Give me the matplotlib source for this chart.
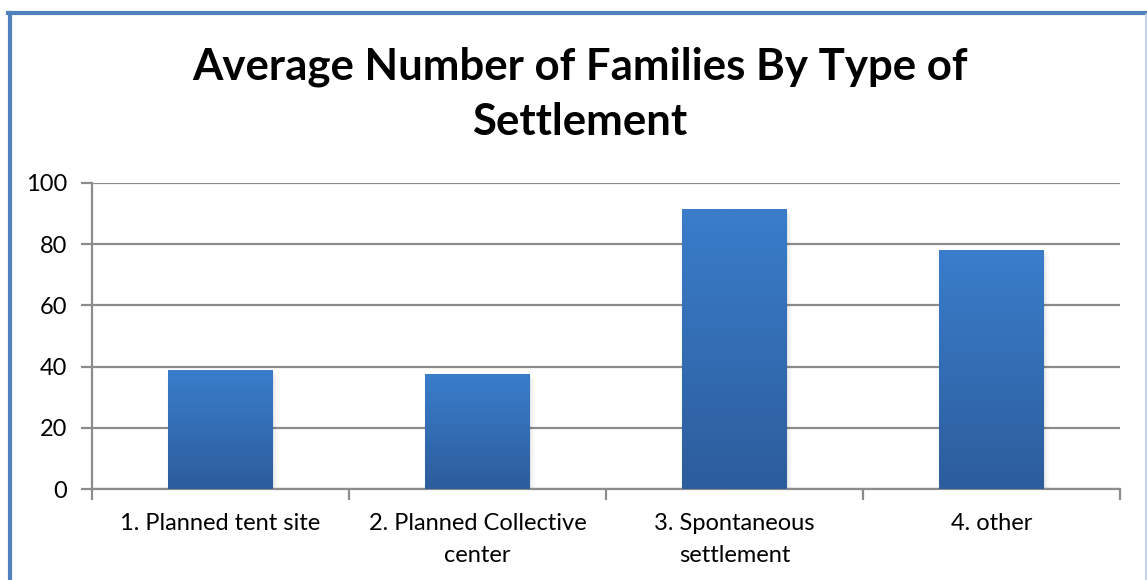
import numpy as np
import matplotlib
matplotlib.use("Agg")
import matplotlib.pyplot as plt
from matplotlib.lines import Line2D
from matplotlib.colors import LinearSegmentedColormap
from matplotlib.patches import Rectangle

categories = ["1. Planned tent site", "2. Planned Collective\ncenter",
              "3. Spontaneous\nsettlement", "4. other"]
values = [38.8, 37.6, 91.5, 78.1]
y_ticks = [0, 20, 40, 60, 80, 100]
title = "Average Number of Families By Type of\nSettlement"

plt.rcParams['font.family'] = ['Lato', 'DejaVu Sans']

W, H = 1147, 580
fig = plt.figure(figsize=(W / 100, H / 100), dpi=100)
ax = fig.add_axes([92 / W, 1 - 489 / H, (1120 - 92) / W, (489 - 183) / H])

x = np.arange(len(categories))
bar_w = 0.405
bars = ax.bar(x, values, width=bar_w, color='none', zorder=3)

# vertical gradient fill for each bar, plus a soft shadow
grad = LinearSegmentedColormap.from_list('g', ['#2c5d9c', '#3a7dcb'])
gimg = np.linspace(0, 1, 256).reshape(-1, 1)
for b in bars:
    x0, w, h = b.get_x(), b.get_width(), b.get_height()
    for k, a in enumerate([0.05, 0.035, 0.02]):
        d = 0.005 * (k + 1)
        ax.add_patch(Rectangle((x0 - d * 0.3, -0.8 * (k + 1)), w + 1.6 * d,
                               h + 0.3, color='black', alpha=a, lw=0, zorder=2))
    im = ax.imshow(gimg, cmap=grad, aspect='auto', origin='lower',
                   extent=[x0, x0 + w, 0, h], zorder=3)
    im.set_clip_path(b)

ax.set_xlim(-0.5, len(categories) - 0.5)
ax.set_ylim(0, 100)
ax.set_yticks(y_ticks)
ax.set_yticklabels([str(t) for t in y_ticks], fontsize=17)
ax.yaxis.grid(True, color='#8c8c8c', lw=1.6, zorder=1)
ax.set_axisbelow(True)

# categories labelled at the centres, tick marks at the boundaries
ax.set_xticks(x)
ax.set_xticklabels(categories, fontsize=17, linespacing=1.65)
ax.set_xticks(np.arange(-0.5, len(categories)), minor=True)
ax.tick_params(axis='x', which='major', length=0, pad=17)
ax.tick_params(axis='x', which='minor', length=8, width=1.6, color='#8c8c8c')
ax.tick_params(axis='y', length=8, width=1.6, color='#8c8c8c', pad=10)

for s in ['top', 'right']:
    ax.spines[s].set_visible(False)
for s in ['left', 'bottom']:
    ax.spines[s].set_color('#8c8c8c')
    ax.spines[s].set_linewidth(1.6)

fig.text(580 / W, 1 - 94 / H, title, ha='center', va='center',
         fontsize=31.5, fontweight='bold', linespacing=1.45)

# chart frame
fig.add_artist(Line2D([9.5 / W, 9.5 / W], [0, 1 - 13 / H], color='#4f81bd', lw=3))
fig.add_artist(Line2D([8 / W, 1], [1 - 13 / H, 1 - 13 / H], color='#4f81bd', lw=3))
fig.add_artist(Line2D([1145.5 / W, 1145.5 / W], [0, 1 - 14 / H], color='#b9cde5', lw=1.2))

fig.savefig('out.png', dpi=100, facecolor='white')
